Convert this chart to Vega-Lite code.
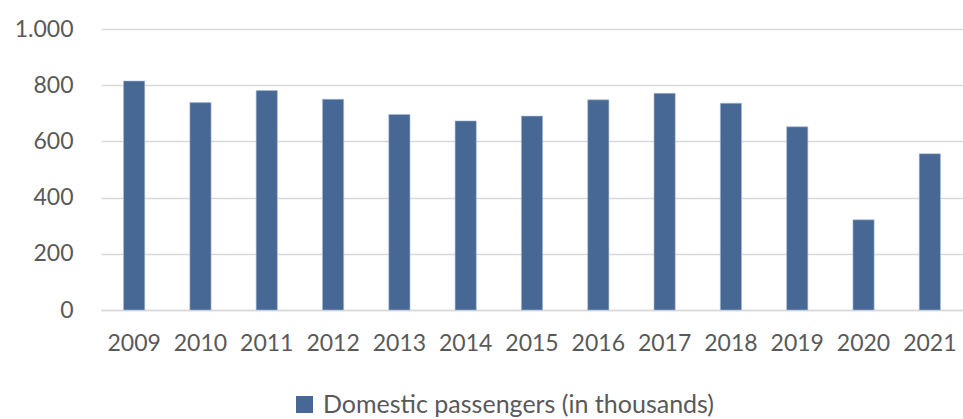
{
  "$schema": "https://vega.github.io/schema/vega-lite/v6.json",
  "autosize": "none",
  "width": 862,
  "height": 281,
  "padding": {"left": 101, "top": 29, "right": 0, "bottom": 109},
  "background": "white",
  "data": {
    "values": [
      {"year": "2009", "value": 815, "series": "Domestic passengers (in thousands)"},
      {"year": "2010", "value": 738, "series": "Domestic passengers (in thousands)"},
      {"year": "2011", "value": 781, "series": "Domestic passengers (in thousands)"},
      {"year": "2012", "value": 750, "series": "Domestic passengers (in thousands)"},
      {"year": "2013", "value": 696, "series": "Domestic passengers (in thousands)"},
      {"year": "2014", "value": 673, "series": "Domestic passengers (in thousands)"},
      {"year": "2015", "value": 690, "series": "Domestic passengers (in thousands)"},
      {"year": "2016", "value": 748, "series": "Domestic passengers (in thousands)"},
      {"year": "2017", "value": 771, "series": "Domestic passengers (in thousands)"},
      {"year": "2018", "value": 736, "series": "Domestic passengers (in thousands)"},
      {"year": "2019", "value": 652, "series": "Domestic passengers (in thousands)"},
      {"year": "2020", "value": 321, "series": "Domestic passengers (in thousands)"},
      {"year": "2021", "value": 556, "series": "Domestic passengers (in thousands)"}
    ]
  },
  "mark": {"type": "bar", "stroke": "#a9bcd6", "strokeWidth": 0.6},
  "encoding": {
    "x": {
      "field": "year",
      "type": "ordinal",
      "scale": {"paddingInner": 0.68, "paddingOuter": 0.34},
      "axis": {
        "title": null,
        "labelAngle": 0,
        "labelFont": "Lato",
        "labelFontSize": 23,
        "labelColor": "#595959",
        "labelPadding": 22,
        "ticks": false,
        "domainColor": "#d9d9d9",
        "domainWidth": 1.5,
        "grid": false
      }
    },
    "y": {
      "field": "value",
      "type": "quantitative",
      "scale": {"domain": [0, 1000], "nice": false},
      "axis": {
        "title": null,
        "values": [0, 200, 400, 600, 800, 1000],
        "labelExpr": "replace(format(datum.value, ','), ',', '.')",
        "labelFont": "Lato",
        "labelFontSize": 23,
        "labelColor": "#595959",
        "labelPadding": 28,
        "ticks": false,
        "domain": false,
        "grid": true,
        "gridColor": "#d9d9d9",
        "gridWidth": 1.5
      }
    },
    "color": {
      "field": "series",
      "type": "nominal",
      "scale": {"range": ["#476894"]},
      "legend": {
        "title": null,
        "orient": "none",
        "legendX": 191,
        "legendY": 363,
        "padding": 0,
        "symbolType": "square",
        "symbolSize": 289,
        "symbolStrokeWidth": 0,
        "labelFont": "Lato",
        "labelFontSize": 25,
        "labelColor": "#595959",
        "labelOffset": 6,
        "labelLimit": 0
      }
    }
  },
  "config": {"view": {"stroke": null}}
}
